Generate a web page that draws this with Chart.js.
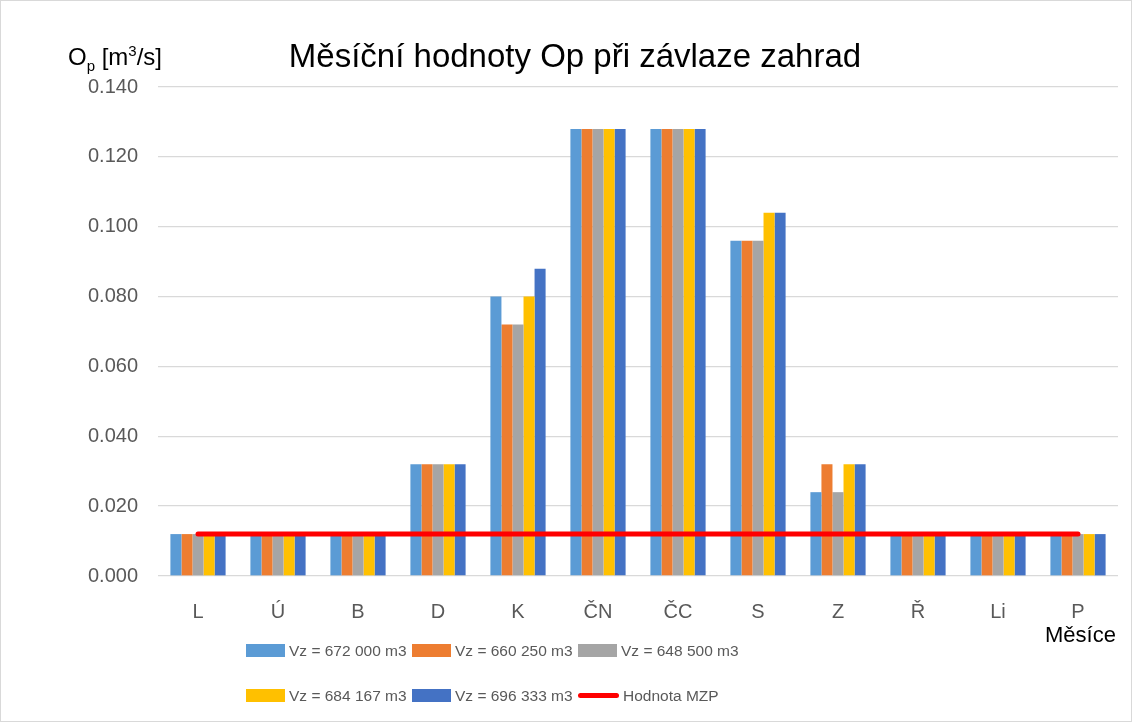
<!DOCTYPE html>
<html>
<head>
<meta charset="utf-8">
<script src="https://cdn.jsdelivr.net/npm/chart.js@4/dist/chart.umd.min.js"></script>
<style>
    body { margin: 0; background: #fff; }
    #wrap { position: relative; width: 1132px; height: 722px; outline: 1px solid #d9d9d9; outline-offset: -1px; }
    #legenda { position: absolute; left: 246px; top: 628px; font-family: "Liberation Sans", Arial, sans-serif; font-size: 15.5px; color: #595959; }
    .radek { height: 45px; display: flex; align-items: center; }
    .polozka { width: 166px; display: flex; align-items: center; white-space: nowrap; }
    .box { width: 39px; height: 13px; margin-right: 4px; }
    .cara { width: 41px; height: 5px; border-radius: 3px; background: #ff0000; margin-right: 4px; }
</style>
</head>
<body>
<div id="wrap">
    <canvas id="grafOp"></canvas>
    <div id="legenda"></div>
</div>
<script>
// Data z grafu
var mesice = ['L', 'Ú', 'B', 'D', 'K', 'ČN', 'ČC', 'S', 'Z', 'Ř', 'Li', 'P'];
var vz672000 = [0.012, 0.012, 0.012, 0.032, 0.080, 0.128, 0.128, 0.096, 0.024, 0.012, 0.012, 0.012];
var vz660250 = [0.012, 0.012, 0.012, 0.032, 0.072, 0.128, 0.128, 0.096, 0.032, 0.012, 0.012, 0.012];
var vz648500 = [0.012, 0.012, 0.012, 0.032, 0.072, 0.128, 0.128, 0.096, 0.024, 0.012, 0.012, 0.012];
var vz684167 = [0.012, 0.012, 0.012, 0.032, 0.080, 0.128, 0.128, 0.104, 0.032, 0.012, 0.012, 0.012];
var vz696333 = [0.012, 0.012, 0.012, 0.032, 0.088, 0.128, 0.128, 0.104, 0.032, 0.012, 0.012, 0.012];
var hodnotaMZP = [0.012, 0.012, 0.012, 0.012, 0.012, 0.012, 0.012, 0.012, 0.012, 0.012, 0.012, 0.012];
var yPopisky = ['0.000', '0.020', '0.040', '0.060', '0.080', '0.100', '0.120', '0.140'];

var pismo = '"Liberation Sans", Arial, sans-serif';

function sloupce(nazev, data, barva) {
    return {
        type: 'bar',
        label: nazev,
        data: data,
        backgroundColor: barva,
        borderWidth: 0,
        categoryPercentage: 0.69,
        barPercentage: 1.0,
        order: 1
    };
}

var datasety = [
    {
        type: 'line',
        label: 'Hodnota MZP',
        data: hodnotaMZP,
        borderColor: '#ff0000',
        backgroundColor: '#ff0000',
        borderWidth: 5,
        borderCapStyle: 'round',
        pointRadius: 0,
        order: 0
    },
    sloupce('Vz = 672 000 m3', vz672000, '#5b9bd5'),
    sloupce('Vz = 660 250 m3', vz660250, '#ed7d31'),
    sloupce('Vz = 648 500 m3', vz648500, '#a5a5a5'),
    sloupce('Vz = 684 167 m3', vz684167, '#ffc000'),
    sloupce('Vz = 696 333 m3', vz696333, '#4472c4')
];

// Nadpisy (titulek, osy)
var texty = {
    id: 'texty',
    afterDraw: function(chart) {
        var ctx = chart.ctx;
        ctx.save();
        ctx.fillStyle = '#000';
        ctx.textBaseline = 'alphabetic';
        ctx.textAlign = 'center';
        ctx.font = '33px ' + pismo;
        ctx.fillText('Měsíční hodnoty Op při závlaze zahrad', 575, 67);

        ctx.textAlign = 'left';
        var x = 68;
        var kusy = [['O', 24, 0], ['p', 15, 6], [' [m', 24, 0], ['3', 15, -9], ['/s]', 24, 0]];
        kusy.forEach(function(k) {
            ctx.font = k[1] + 'px ' + pismo;
            ctx.fillText(k[0], x, 65 + k[2]);
            x += ctx.measureText(k[0]).width;
        });

        ctx.font = '22px ' + pismo;
        ctx.fillText('Měsíce', 1045, 642);
        ctx.restore();
    }
};

var polozky = datasety.slice(1).concat([datasety[0]]);
var legenda = document.getElementById('legenda');
for (var r = 0; r < 2; r++) {
    var radek = document.createElement('div');
    radek.className = 'radek';
    polozky.slice(r * 3, r * 3 + 3).forEach(function(d) {
        var p = document.createElement('div');
        p.className = 'polozka';
        var z = document.createElement('span');
        if (d.type === 'line') {
            z.className = 'cara';
        } else {
            z.className = 'box';
            z.style.background = d.backgroundColor;
        }
        var t = document.createElement('span');
        t.textContent = d.label;
        p.appendChild(z);
        p.appendChild(t);
        radek.appendChild(p);
    });
    legenda.appendChild(radek);
}

var config = {
    data: { labels: mesice, datasets: datasety },
    options: {
        responsive: true,
        maintainAspectRatio: false,
        animation: false,
        layout: { padding: { top: 87, right: 14, bottom: 96, left: 0 } },
        plugins: {
            legend: { display: false },
            title: { display: false },
            tooltip: { enabled: false }
        },
        scales: {
            x: {
                grid: { display: false },
                border: { display: false },
                ticks: { color: '#595959', font: { family: pismo, size: 20 }, padding: 16 },
                afterFit: function(s) { s.height = 50; }
            },
            y: {
                min: 0,
                max: 0.14,
                grid: { color: '#d9d9d9', lineWidth: 1.3, drawTicks: false },
                border: { display: false },
                ticks: {
                    stepSize: 0.02,
                    color: '#595959',
                    font: { family: pismo, size: 20 },
                    padding: 20,
                    callback: function(v, i) { return yPopisky[i]; }
                },
                afterFit: function(s) { s.width = 158; }
            }
        }
    },
    plugins: [texty]
};

var graf = new Chart(document.getElementById('grafOp'), config);
</script>
</body>
</html>
